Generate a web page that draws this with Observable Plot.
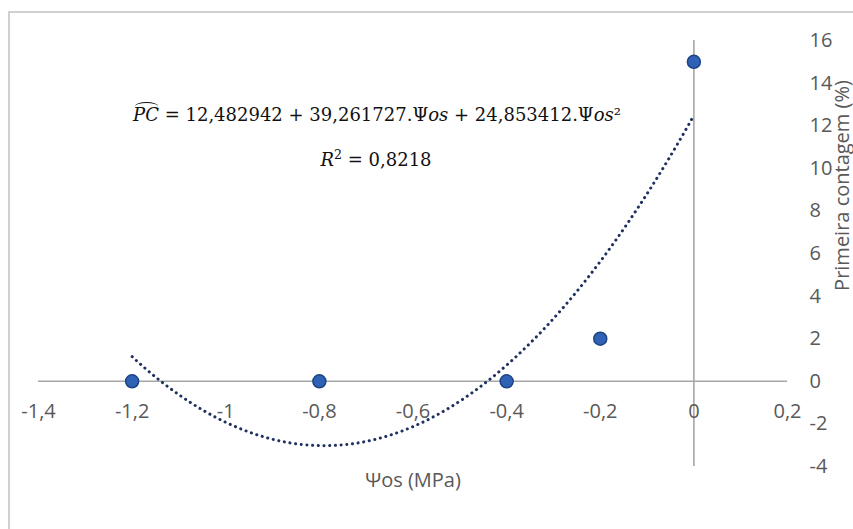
<!DOCTYPE html>
<html><head><meta charset="utf-8">
<script src="https://cdn.jsdelivr.net/npm/d3@7"></script>
<script src="https://cdn.jsdelivr.net/npm/@observablehq/plot@0.6"></script>
<style>
body{margin:0;background:#fff;}
#wrap{position:relative;width:853px;height:529px;overflow:hidden;background:#fff;}
#border{position:absolute;left:8px;top:11px;right:-4px;bottom:-4px;border-left:2px solid #d0d0d0;border-top:2px solid #d0d0d0;}
.eq{position:absolute;font-family:"DejaVu Serif",serif;font-size:18px;color:#111;white-space:nowrap;transform:translateX(-50%);line-height:1;}
.eq i{font-style:italic;}
.hat{position:relative;display:inline-block;}
.hat::before{content:"";position:absolute;left:2px;right:1px;top:-4px;height:7px;border-top:1.3px solid #111;border-radius:50% 50% 0 0;}
sup{font-size:0.7em;line-height:0;vertical-align:0.55em;}
</style></head><body>
<div id="wrap"><div id="border"></div></div>
<script>
const psi = [-1.2, -0.8, -0.4, -0.2, 0];
const pc = [0, 0, 0, 2, 15];
const coefs = [12.482942, 39.261727, 24.853412];
const r2 = "0,8218";
const xTicks = [-1.4, -1.2, -1, -0.8, -0.6, -0.4, -0.2, 0, 0.2];
const yTicks = [-4, -2, 0, 2, 4, 6, 8, 10, 12, 14, 16];
const xTitle = "Ψos (MPa)";
const yTitle = "Primeira contagem (%)";

const points = psi.map((x, i) => ({x, y: pc[i]}));
const trend = d3.range(-1.2, 0.0001, 0.01).map(x => ({x, y: coefs[0] + coefs[1]*x + coefs[2]*x*x}));
const fmt = d => String(+d.toFixed(1)).replace(".", ",");
const grey = "#595959";

const chart = Plot.plot({
  width: 853, height: 529,
  marginLeft: 38, marginRight: 66, marginTop: 40, marginBottom: 63,
  x: {domain: [-1.4, 0.2], axis: null},
  y: {domain: [-4, 16], axis: null},
  style: {fontFamily: "'Open Sans', sans-serif", fontSize: "20px", color: grey, background: "transparent", overflow: "visible"},
  marks: [
    Plot.ruleY([0], {x1: -1.4, x2: 0.2, stroke: "#a6a6a6", strokeWidth: 1.6}),
    Plot.ruleX([0], {y1: -4, y2: 16, stroke: "#a6a6a6", strokeWidth: 1.6}),
    Plot.text(xTicks, {x: d => d, y: 0, text: fmt, dy: 30, fill: grey}),
    Plot.text(yTicks, {x: 0.2, y: d => d, text: fmt, dx: 22, textAnchor: "start", fill: grey}),
    Plot.line(trend, {x: "x", y: "y", stroke: "#1f2f5f", strokeWidth: 3, strokeDasharray: "0.1 5.6", strokeLinecap: "round"}),
    Plot.dot(points, {x: "x", y: "y", r: 6.5, fill: "#2f62b5", stroke: "#1d4485", strokeWidth: 1.5}),
    Plot.text([xTitle], {frameAnchor: "bottom", dy: 20, fill: grey}),
    Plot.text([yTitle], {frameAnchor: "right", textAnchor: "middle", rotate: -90, dx: 55, dy: -68, fill: grey})
  ]
});
chart.style.position = "absolute";
chart.style.left = "0"; chart.style.top = "0";
const wrap = document.getElementById("wrap");
wrap.appendChild(chart);

const eq1 = document.createElement("div");
eq1.className = "eq";
eq1.style.left = "377px"; eq1.style.top = "106px";
eq1.innerHTML = `<span class="hat"><i>PC</i></span> = ${String(coefs[0]).replace(".", ",")} + ${String(coefs[1]).replace(".", ",")}.Ψ<i>os</i> + ${String(coefs[2]).replace(".", ",")}.Ψ<i>os</i>²`;
wrap.appendChild(eq1);
const eq2 = document.createElement("div");
eq2.className = "eq";
eq2.style.left = "376px"; eq2.style.top = "151px";
eq2.innerHTML = `<i>R</i><sup>2</sup> = ${r2}`;
wrap.appendChild(eq2);
</script>
</body></html>
